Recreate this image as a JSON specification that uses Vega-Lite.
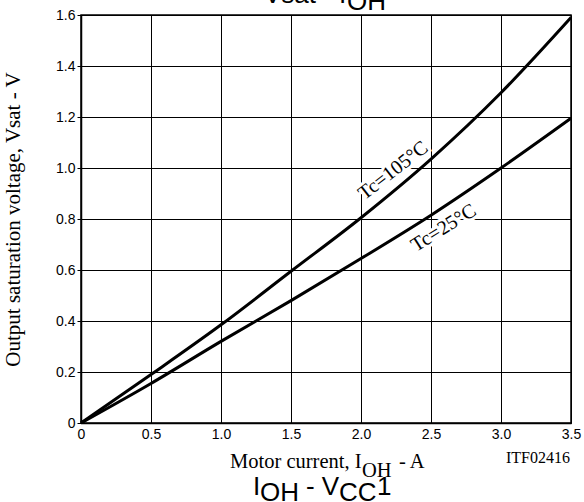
{
  "$schema": "https://vega.github.io/schema/vega-lite/v6.json",
  "width": 490,
  "height": 408,
  "autosize": {"type": "none"},
  "padding": {"left": 81, "top": 15, "right": 13, "bottom": 79},
  "background": "white",
  "config": {
    "view": {"stroke": "#000", "strokeWidth": 1.5},
    "axis": {"gridColor": "#000", "gridOpacity": 1, "gridWidth": 1, "domainColor": "#000", "domainWidth": 1.5, "tickColor": "#000", "labelColor": "#000", "labelFont": "Liberation Sans", "labelFontSize": 14}
  },
  "data": {"values": [
    {"I": 0, "V": 0, "series": "Tc=105°C"},
    {"I": 0.5, "V": 0.19, "series": "Tc=105°C"},
    {"I": 1.0, "V": 0.385, "series": "Tc=105°C"},
    {"I": 1.5, "V": 0.595, "series": "Tc=105°C"},
    {"I": 2.0, "V": 0.805, "series": "Tc=105°C"},
    {"I": 2.5, "V": 1.035, "series": "Tc=105°C"},
    {"I": 3.0, "V": 1.295, "series": "Tc=105°C"},
    {"I": 3.5, "V": 1.59, "series": "Tc=105°C"},
    {"I": 0, "V": 0, "series": "Tc=25°C"},
    {"I": 0.5, "V": 0.155, "series": "Tc=25°C"},
    {"I": 1.0, "V": 0.32, "series": "Tc=25°C"},
    {"I": 1.5, "V": 0.48, "series": "Tc=25°C"},
    {"I": 2.0, "V": 0.645, "series": "Tc=25°C"},
    {"I": 2.5, "V": 0.815, "series": "Tc=25°C"},
    {"I": 3.0, "V": 1.0, "series": "Tc=25°C"},
    {"I": 3.5, "V": 1.195, "series": "Tc=25°C"}
  ]},
  "layer": [
    {
      "mark": {"type": "line", "color": "#000", "strokeWidth": 3, "interpolate": "monotone"},
      "encoding": {
        "x": {"field": "I", "type": "quantitative", "scale": {"domain": [0, 3.5], "nice": false, "zero": false},
              "axis": {"values": [0, 0.5, 1, 1.5, 2, 2.5, 3, 3.5], "labelExpr": "datum.value == 0 ? '0' : format(datum.value, '.1f')", "ticks": false, "labelPadding": 4, "title": null, "grid": true, "labelFlush": false}},
        "y": {"field": "V", "type": "quantitative", "scale": {"domain": [0, 1.6], "nice": false, "zero": false},
              "axis": {"values": [0, 0.2, 0.4, 0.6, 0.8, 1.0, 1.2, 1.4, 1.6], "labelExpr": "datum.value == 0 ? '0' : format(datum.value, '.1f')", "tickSize": 4, "labelPadding": 2, "grid": true, "labelFlush": false,
                       "title": "Output saturation voltage, Vsat - V", "titleFont": "Liberation Serif", "titleFontSize": 21, "titleFontWeight": "normal", "titleColor": "#000", "titlePadding": 32}},
        "detail": {"field": "series"}
      }
    },
    {
      "data": {"values": [{}]},
      "mark": {"type": "text", "text": "Tc=105°C", "font": "Liberation Serif", "fontSize": 20, "angle": -38, "align": "center", "baseline": "middle", "stroke": "white", "strokeWidth": 6, "fill": "white"},
      "encoding": {"x": {"datum": 2.23}, "y": {"datum": 0.99}}
    },
    {
      "data": {"values": [{}]},
      "mark": {"type": "text", "text": "Tc=25°C", "font": "Liberation Serif", "fontSize": 20, "angle": -32, "align": "center", "baseline": "middle", "stroke": "white", "strokeWidth": 6, "fill": "white"},
      "encoding": {"x": {"datum": 2.59}, "y": {"datum": 0.765}}
    },
    {
      "data": {"values": [{}]},
      "mark": {"type": "text", "text": "Tc=105°C", "font": "Liberation Serif", "fontSize": 20, "angle": -38, "align": "center", "baseline": "middle", "color": "#000"},
      "encoding": {"x": {"datum": 2.23}, "y": {"datum": 0.99}}
    },
    {
      "data": {"values": [{}]},
      "mark": {"type": "text", "text": "Tc=25°C", "font": "Liberation Serif", "fontSize": 20, "angle": -32, "align": "center", "baseline": "middle", "color": "#000"},
      "encoding": {"x": {"datum": 2.59}, "y": {"datum": 0.765}}
    },
    {
      "data": {"values": [{}]},
      "mark": {"type": "text", "text": "Vsat - I", "font": "Liberation Sans", "fontSize": 26, "align": "left", "baseline": "alphabetic", "color": "#000"},
      "encoding": {"x": {"datum": 1.307}, "y": {"datum": 1.648}}
    },
    {
      "data": {"values": [{}]},
      "mark": {"type": "text", "text": "OH", "font": "Liberation Sans", "fontSize": 26, "align": "left", "baseline": "alphabetic", "color": "#000"},
      "encoding": {"x": {"datum": 1.9}, "y": {"datum": 1.62}}
    },
    {
      "data": {"values": [{}]},
      "mark": {"type": "text", "text": "Motor current, I", "font": "Liberation Serif", "fontSize": 20.5, "align": "left", "baseline": "alphabetic", "color": "#000"},
      "encoding": {"x": {"datum": 1.0643}, "y": {"datum": -0.1765}}
    },
    {
      "data": {"values": [{}]},
      "mark": {"type": "text", "text": "OH", "font": "Liberation Serif", "fontSize": 20.5, "align": "left", "baseline": "alphabetic", "color": "#000"},
      "encoding": {"x": {"datum": 2.007}, "y": {"datum": -0.2118}}
    },
    {
      "data": {"values": [{}]},
      "mark": {"type": "text", "text": "- A", "font": "Liberation Serif", "fontSize": 20.5, "align": "left", "baseline": "alphabetic", "color": "#000"},
      "encoding": {"x": {"datum": 2.2714}, "y": {"datum": -0.1765}}
    },
    {
      "data": {"values": [{}]},
      "mark": {"type": "text", "text": "ITF02416", "font": "Liberation Serif", "fontSize": 16, "align": "right", "baseline": "alphabetic", "color": "#000"},
      "encoding": {"x": {"datum": 3.4929}, "y": {"datum": -0.1569}}
    },
    {
      "data": {"values": [{}]},
      "mark": {"type": "text", "text": "I", "font": "Liberation Sans", "fontSize": 26, "align": "left", "baseline": "alphabetic", "color": "#000"},
      "encoding": {"x": {"datum": 1.2286}, "y": {"datum": -0.2824}}
    },
    {
      "data": {"values": [{}]},
      "mark": {"type": "text", "text": "OH", "font": "Liberation Sans", "fontSize": 26, "align": "left", "baseline": "alphabetic", "color": "#000"},
      "encoding": {"x": {"datum": 1.2786}, "y": {"datum": -0.3078}}
    },
    {
      "data": {"values": [{}]},
      "mark": {"type": "text", "text": "- V", "font": "Liberation Sans", "fontSize": 26, "align": "left", "baseline": "alphabetic", "color": "#000"},
      "encoding": {"x": {"datum": 1.607}, "y": {"datum": -0.2824}}
    },
    {
      "data": {"values": [{}]},
      "mark": {"type": "text", "text": "CC", "font": "Liberation Sans", "fontSize": 26, "align": "left", "baseline": "alphabetic", "color": "#000"},
      "encoding": {"x": {"datum": 1.8429}, "y": {"datum": -0.3078}}
    },
    {
      "data": {"values": [{}]},
      "mark": {"type": "text", "text": "1", "font": "Liberation Sans", "fontSize": 26, "align": "left", "baseline": "alphabetic", "color": "#000"},
      "encoding": {"x": {"datum": 2.1143}, "y": {"datum": -0.2824}}
    }
  ]
}
